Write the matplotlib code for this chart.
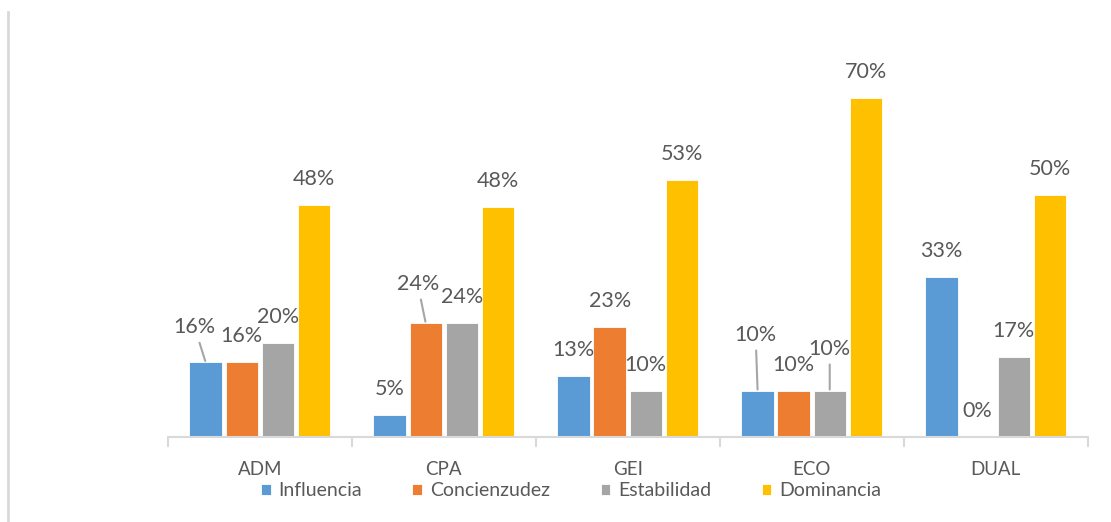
import matplotlib

matplotlib.use("Agg")
import matplotlib.pyplot as plt
import numpy as np
from matplotlib.lines import Line2D

# ---- data -------------------------------------------------------------------
carreras = ["ADM", "CPA", "GEI", "ECO", "DUAL"]
series = ["Influencia", "Concienzudez", "Estabilidad", "Dominancia"]
influencia = [15.5, 4.6, 12.7, 9.6, 33.0]
concienzudez = [15.5, 23.6, 22.7, 9.6, 0.0]
estabilidad = [19.5, 23.6, 9.6, 9.6, 16.6]
dominancia = [47.9, 47.6, 53.0, 70.0, 49.9]

colors = ["#5B9BD5", "#ED7D31", "#A5A5A5", "#FFC000"]
text_col = "#595959"
line_col = "#D9D9D9"

# labels that Excel moved away from the bar (series idx, group idx) -> offset px
moved = {(0, 0): (-11, 35), (1, 1): (-8, 39), (0, 3): (-2, 56), (2, 3): (0, 42)}

plt.rcParams["font.family"] = ["Lato", "DejaVu Sans"]

fig = plt.figure(figsize=(11.11, 5.22), dpi=100)
ax = fig.add_axes([0.151, 0.1619, 0.828, 0.7433])

x = np.arange(len(carreras))
step, width = 0.196, 0.176
values = [influencia, concienzudez, estabilidad, dominancia]
for i, (name, vals) in enumerate(zip(series, values)):
    pos = x + (i - 1.5) * step
    ax.bar(pos, vals, width, color=colors[i], label=name,
           edgecolor="white", linewidth=0.6)
    for j, v in enumerate(vals):
        dx, dy = moved.get((i, j), (0, 26))
        arrow = None
        if (i, j) in moved:
            arrow = dict(arrowstyle="-", color="#A6A6A6", lw=1.5,
                         shrinkA=2, shrinkB=1)
        ax.annotate(f"{v:.0f}%", xy=(pos[j], v), xytext=(dx, dy),
                    textcoords="offset pixels", ha="center", va="center",
                    fontsize=15.5, color=text_col, arrowprops=arrow)

ax.set_xlim(-0.5, len(carreras) - 0.5)
ax.set_ylim(0, 80)
ax.set_yticks([])
for s in ["top", "right", "left"]:
    ax.spines[s].set_visible(False)
ax.spines["bottom"].set_color(line_col)
ax.spines["bottom"].set_linewidth(1.5)

ax.set_xticks(x)
ax.set_xticklabels(carreras, fontsize=13.5, color=text_col)
ax.tick_params(axis="x", which="major", length=0, pad=17)
ax.set_xticks(np.arange(-0.5, len(carreras)), minor=True)
ax.tick_params(axis="x", which="minor", length=7, width=1.5, color=line_col)

fig.legend(loc="center", bbox_to_anchor=(571 / 1111, 1 - 491 / 522), ncol=4,
           frameon=False, fontsize=14, handlelength=0.5, handleheight=0.5,
           handletextpad=0.4, columnspacing=2.6, labelcolor=text_col)

# thin border line at the left of the picture
fig.add_artist(Line2D([7.5 / 1111, 7.5 / 1111], [0, 1 - 12 / 522],
                      color=line_col, lw=2, transform=fig.transFigure))

fig.savefig("out.png", dpi=100, facecolor="white")
plt.close(fig)
